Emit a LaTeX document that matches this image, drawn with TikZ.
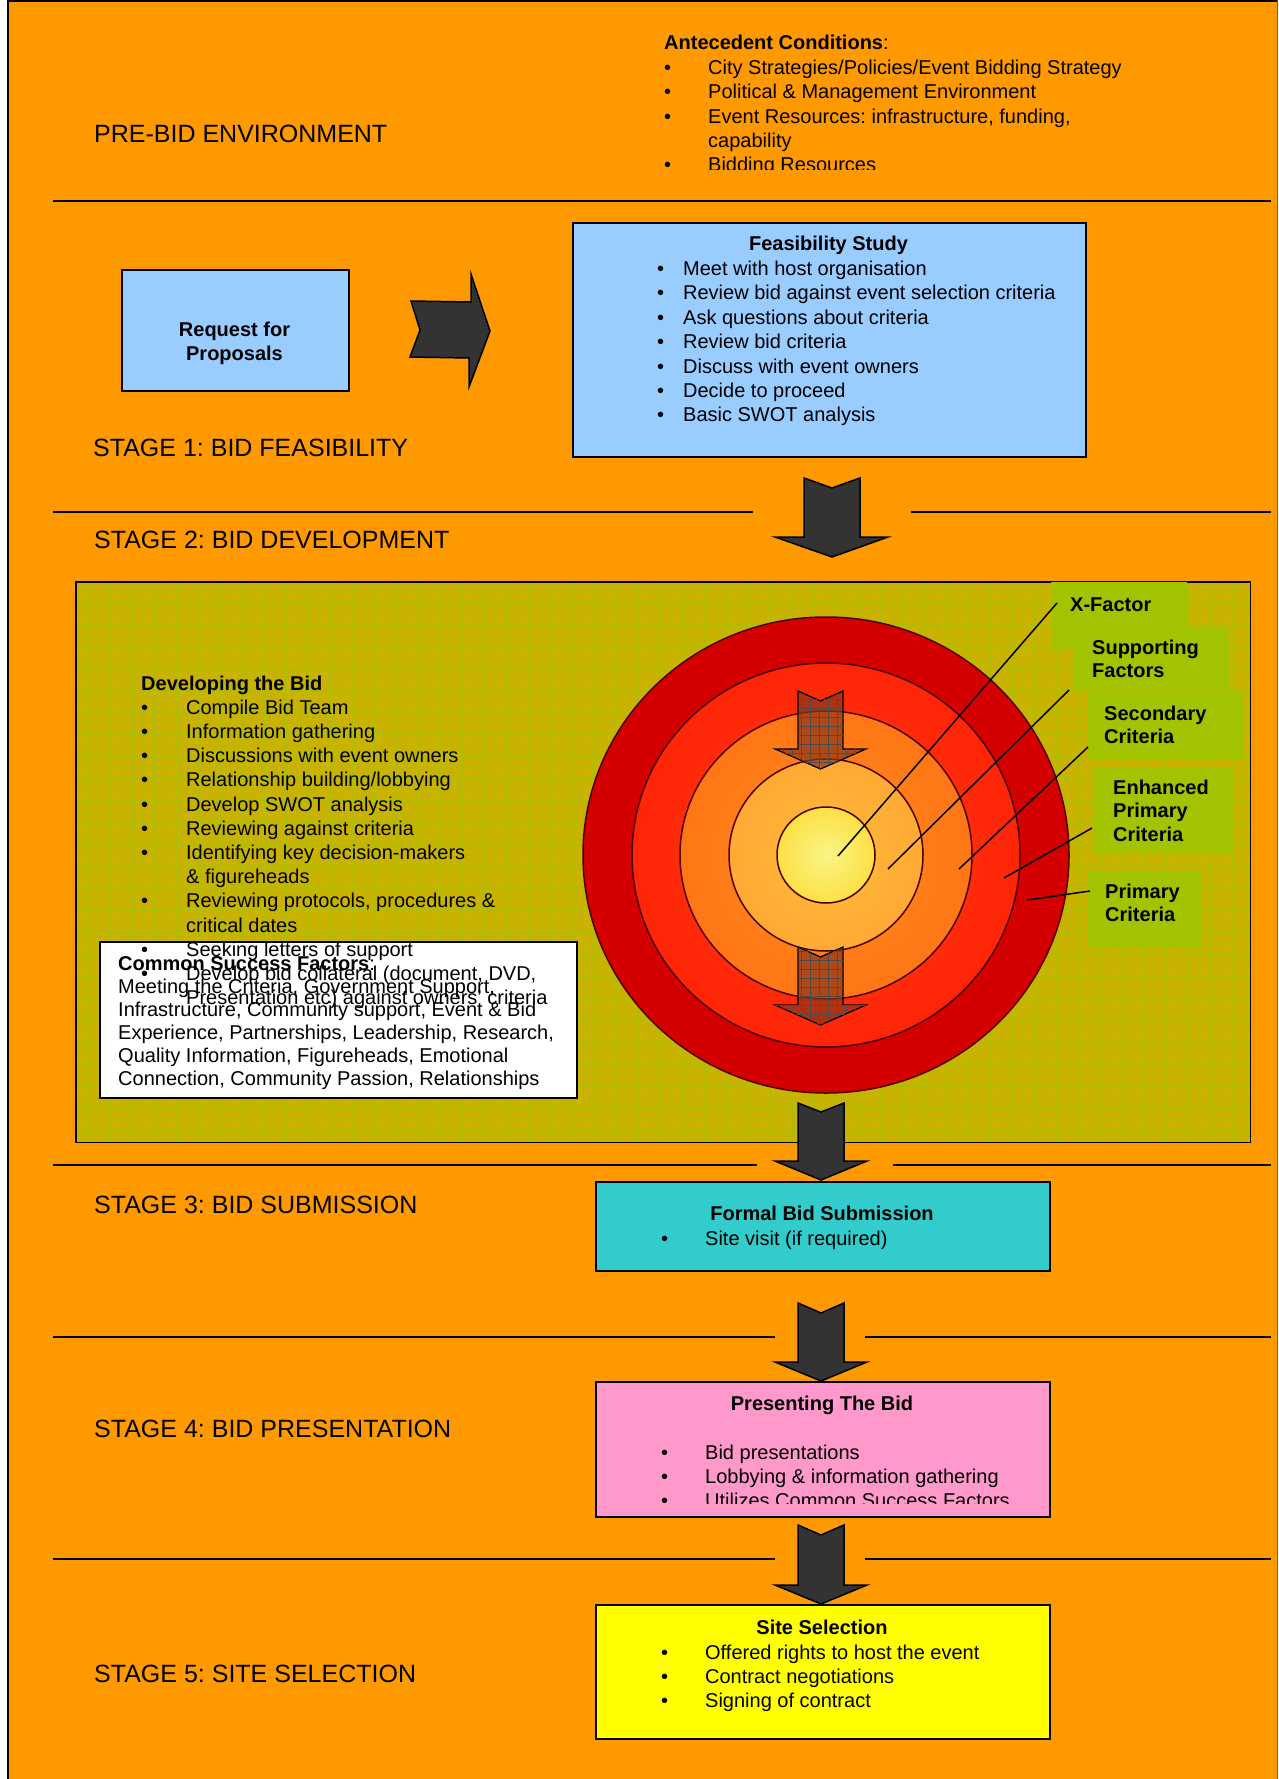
\documentclass[tikz,border=0pt]{standalone}
\usepackage{fontspec}
\setmainfont{Liberation Sans}
\usetikzlibrary{positioning,patterns.meta}

\definecolor{bidorange}{HTML}{FF9900}
\definecolor{bidblue}{HTML}{99CCFF}
\definecolor{bidteal}{HTML}{33CCCC}
\definecolor{bidpink}{HTML}{FF99CC}
\definecolor{bidyellow}{HTML}{FFFF00}
\definecolor{bidolive}{HTML}{C8B400}
\definecolor{gridgreen}{HTML}{ADBD00}
\definecolor{lblgreen}{HTML}{A2C400}
\definecolor{arrowgrey}{HTML}{333333}
\definecolor{arrowbrown}{HTML}{8C3519}
\definecolor{ringline}{HTML}{4D0000}
\definecolor{ringdark}{HTML}{D40000}
\definecolor{ringtwoin}{HTML}{FF3A10}
\definecolor{ringtwoout}{HTML}{FF1000}
\definecolor{ringthreein}{HTML}{FF8C1C}
\definecolor{ringthreeout}{HTML}{FF6010}
\definecolor{ringfourin}{HTML}{FFBC3A}
\definecolor{ringfourout}{HTML}{FF962E}
\definecolor{corein}{HTML}{FAF488}
\definecolor{coreout}{HTML}{FFCC00}

\pgfdeclareradialshading{ringtwo}{\pgfpointorigin}{color(0bp)=(ringtwoin); color(50bp)=(ringtwoout)}
\pgfdeclareradialshading{ringthree}{\pgfpointorigin}{color(0bp)=(ringthreein); color(50bp)=(ringthreeout)}
\pgfdeclareradialshading{ringfour}{\pgfpointorigin}{color(0bp)=(ringfourin); color(50bp)=(ringfourout)}
\pgfdeclareradialshading{ringcore}{\pgfpointorigin}{color(0bp)=(corein); color(50bp)=(coreout)}

\newcommand{\bul}[1]{\makebox[#1][l]{\textbullet}}

\begin{document}
\frenchspacing
\begin{tikzpicture}[x=1pt,y=-1pt,
    stagelbl/.style={anchor=base west,inner sep=0pt,font=\fontsize{25}{30}\selectfont},
    listtxt/.style={anchor=base west,inner sep=0pt,align=left,font=\fontsize{20}{24.4}\selectfont},
    boxhead/.style={anchor=base,inner sep=0pt,align=center,font=\fontsize{20}{24.4}\selectfont\bfseries},
    ringlbl/.style={anchor=base west,inner sep=0pt,align=left,font=\fontsize{20}{23.8}\selectfont\bfseries},
    bidbox/.style={draw=black,line width=2pt,anchor=north west,inner sep=0pt},
    lblbox/.style={fill=lblgreen,anchor=north west,inner sep=0pt},
    sepline/.style={line width=2pt},
    bigarrow/.style={fill=arrowgrey,draw=black,line width=1.5pt},
    innerarrow/.style={draw=black,line width=1.2pt,fill=arrowbrown,fill opacity=0.7,
        postaction={pattern={Lines[distance=9pt,angle=0,line width=0.6pt]},pattern color=black!70},
        postaction={pattern={Lines[distance=9pt,angle=90,line width=0.6pt]},pattern color=black!70}},
    ring/.style={draw=ringline,line width=1.5pt},
    leader/.style={line width=1.5pt}]

\useasboundingbox (0,0) rectangle (1278,1779);

% page
\fill[bidorange] (8,0) rectangle (1278,1779);
\draw[line width=2pt] (8,1779) -- (8,1) -- (1278,1);
\draw[line width=1pt,brown!70!black] (1277.5,0) -- (1277.5,1779);

% stage separators
\draw[sepline] (53,201) -- (1271,201);
\draw[sepline] (53,512) -- (753,512);
\draw[sepline] (911,512) -- (1271,512);
\draw[sepline] (53,1165) -- (757,1165);
\draw[sepline] (893,1165) -- (1271,1165);
\draw[sepline] (53,1337) -- (775,1337);
\draw[sepline] (865,1337) -- (1271,1337);
\draw[sepline] (53,1559) -- (775,1559);
\draw[sepline] (865,1559) -- (1271,1559);

% pre-bid (multi-line nodes sit on their last baseline)
\node[stagelbl] (prebid) at (94,143) {PRE-BID ENVIRONMENT};
\begin{scope}
  \clip (600,0) rectangle (1278,170);
  \node[listtxt] (antec) at (664,172) {\textbf{Antecedent Conditions}:\\
    \bul{44pt}City Strategies/Policies/Event Bidding Strategy\\
    \bul{44pt}Political \& Management Environment\\
    \bul{44pt}Event Resources: infrastructure, funding,\\
    \hspace*{44pt}capability\\
    \bul{44pt}Bidding Resources};
\end{scope}

% stage 1
\node[bidbox,fill=bidblue,minimum width=227pt,minimum height=121pt] (rfp) at (121,269) {};
\node[boxhead] (rfptxt) at (234.5,360.4) {Request for\\Proposals};
\draw[bigarrow] (411,301) -- (471,302) -- (471,274) -- (490,331) -- (469,387) -- (469,358) -- (410,357) -- (420,330) -- cycle;
\node[bidbox,fill=bidblue,minimum width=513pt,minimum height=234pt] (feas) at (572,222) {};
\node[boxhead] (feashead) at (828.5,251) {Feasibility Study};
\node[listtxt] (feaslist) at (657,421.8) {\bul{26pt}Meet with host organisation\\
    \bul{26pt}Review bid against event selection criteria\\
    \bul{26pt}Ask questions about criteria\\
    \bul{26pt}Review bid criteria\\
    \bul{26pt}Discuss with event owners\\
    \bul{26pt}Decide to proceed\\
    \bul{26pt}Basic SWOT analysis};
\node[stagelbl] (stage1) at (93,456) {STAGE 1: BID FEASIBILITY};
\draw[bigarrow] (804,478) -- (832,488) -- (860,478) -- (860,537) -- (888,537) -- (832,557) -- (775,537) -- (804,537) -- cycle;

% stage 2
\node[stagelbl] (stage2) at (94,548) {STAGE 2: BID DEVELOPMENT};
\node[anchor=north west,inner sep=0pt,fill=bidolive,minimum width=1174pt,minimum height=560pt,
    postaction={pattern={Lines[distance=11pt,angle=0,line width=0.7pt]},pattern color=gridgreen},
    postaction={pattern={Lines[distance=11pt,angle=90,line width=0.7pt]},pattern color=gridgreen}] (devbox) at (76,582) {};
\draw[line width=1.5pt] (devbox.north west) rectangle (devbox.south east);

\node[lblbox,minimum width=136pt,minimum height=68pt] (xbox) at (1051,582) {};
\node[lblbox,minimum width=156pt,minimum height=63pt] (supbox) at (1073,627) {};
\node[lblbox,minimum width=157pt,minimum height=68pt] (secbox) at (1087,692) {};
\node[lblbox,minimum width=139pt,minimum height=86pt] (enhbox) at (1094,767) {};
\node[lblbox,minimum width=114pt,minimum height=75pt] (pribox) at (1087,872) {};

% target rings
\draw[ring,fill=ringdark] (826,855) ellipse [x radius=243,y radius=238];
\shadedraw[ring,shading=ringtwo] (826,855) ellipse [x radius=194,y radius=192];
\shadedraw[ring,shading=ringthree] (826,855) ellipse [x radius=146,y radius=144];
\shadedraw[ring,shading=ringfour] (826,855) ellipse [x radius=97,y radius=96];
\shadedraw[ring,shading=ringcore] (826,855) ellipse [x radius=49,y radius=48];

\draw[innerarrow] (798,691) -- (820.5,701) -- (843,691) -- (843,749) -- (866,749) -- (820.5,769) -- (775,749) -- (798,749) -- cycle;
\draw[innerarrow] (798,947) -- (820.5,957) -- (843,947) -- (843,1005) -- (866,1005) -- (820.5,1025) -- (775,1005) -- (798,1005) -- cycle;

\coordinate (xfrom) at (1057,603);
\coordinate (xto) at (838,856);
\coordinate (supfrom) at (1069,690);
\coordinate (supto) at (888,869);
\coordinate (secfrom) at (1088,747);
\coordinate (secto) at (959,869);
\coordinate (enhfrom) at (1092,828);
\coordinate (enhto) at (1004,878);
\coordinate (prifrom) at (1090,891);
\coordinate (prito) at (1027,900);
\draw[leader] (xfrom) -- (xto);
\draw[leader] (supfrom) -- (supto);
\draw[leader] (secfrom) -- (secto);
\draw[leader] (enhfrom) -- (enhto);
\draw[leader] (prifrom) -- (prito);

\node[ringlbl] (xlbl) at (1070,611) {X-Factor};
\node[ringlbl] (suplbl) at (1092,677.8) {Supporting\\Factors};
\node[ringlbl] (seclbl) at (1104,743.8) {Secondary\\Criteria};
\node[ringlbl] (enhlbl) at (1113,841.6) {Enhanced\\Primary\\Criteria};
\node[ringlbl] (prilbl) at (1105,921.8) {Primary\\Criteria};

\node[bidbox,fill=white,minimum width=477pt,minimum height=156pt] (csfbox) at (99,941) {};
\node[listtxt,font=\fontsize{20}{23}\selectfont] (csftxt) at (118,1085) {\textbf{Common Success Factors}:\\
    Meeting the Criteria, Government Support,\\
    Infrastructure, Community support, Event \& Bid\\
    Experience, Partnerships, Leadership, Research,\\
    Quality Information, Figureheads, Emotional\\
    Connection, Community Passion, Relationships};
\node[listtxt,font=\fontsize{20}{24.2}\selectfont] (devlist) at (141,1004.6) {\textbf{Developing the Bid}\\
    \bul{45pt}Compile Bid Team\\
    \bul{45pt}Information gathering\\
    \bul{45pt}Discussions with event owners\\
    \bul{45pt}Relationship building/lobbying\\
    \bul{45pt}Develop SWOT analysis\\
    \bul{45pt}Reviewing against criteria\\
    \bul{45pt}Identifying key decision-makers\\
    \hspace*{45pt}\& figureheads\\
    \bul{45pt}Reviewing protocols, procedures \&\\
    \hspace*{45pt}critical dates\\
    \bul{45pt}Seeking letters of support\\
    \bul{45pt}Develop bid collateral (document, DVD,\\
    \hspace*{45pt}Presentation etc) against owners' criteria};

\draw[bigarrow] (798,1103) -- (821,1112) -- (844,1103) -- (844,1161) -- (867,1161) -- (821,1180) -- (775,1161) -- (798,1161) -- cycle;

% stage 3
\node[stagelbl] (stage3) at (94,1213) {STAGE 3: BID SUBMISSION};
\node[bidbox,fill=bidteal,minimum width=454pt,minimum height=89pt] (formal) at (595,1181) {};
\node[boxhead] (formalhead) at (822,1220) {Formal Bid Submission};
\node[listtxt] (formallist) at (661,1245) {\bul{44pt}Site visit (if required)};
\draw[bigarrow] (798,1303) -- (821,1313) -- (844,1303) -- (844,1362) -- (867,1362) -- (821,1381) -- (775,1362) -- (798,1362) -- cycle;

% stage 4
\node[stagelbl] (stage4) at (94,1437) {STAGE 4: BID PRESENTATION};
\node[bidbox,fill=bidpink,minimum width=454pt,minimum height=135pt] (present) at (595,1381) {};
\node[boxhead] (presenthead) at (822,1410) {Presenting The Bid};
\begin{scope}
  \clip (595,1381) rectangle (1049,1503);
  \node[listtxt,font=\fontsize{20}{24.2}\selectfont] (presentlist) at (661,1507.4) {\bul{44pt}Bid presentations\\
    \bul{44pt}Lobbying \& information gathering\\
    \bul{44pt}Utilizes Common Success Factors};
\end{scope}
\draw[bigarrow] (798,1525) -- (821,1535) -- (844,1525) -- (844,1585) -- (867,1585) -- (821,1604) -- (775,1585) -- (798,1585) -- cycle;

% stage 5
\node[stagelbl] (stage5) at (94,1682) {STAGE 5: SITE SELECTION};
\node[bidbox,fill=bidyellow,minimum width=454pt,minimum height=134pt] (site) at (595,1604) {};
\node[boxhead] (sitehead) at (822,1634) {Site Selection};
\node[listtxt,font=\fontsize{20}{24.2}\selectfont] (sitelist) at (661,1707.4) {\bul{44pt}Offered rights to host the event\\
    \bul{44pt}Contract negotiations\\
    \bul{44pt}Signing of contract};
\end{tikzpicture}
\end{document}
